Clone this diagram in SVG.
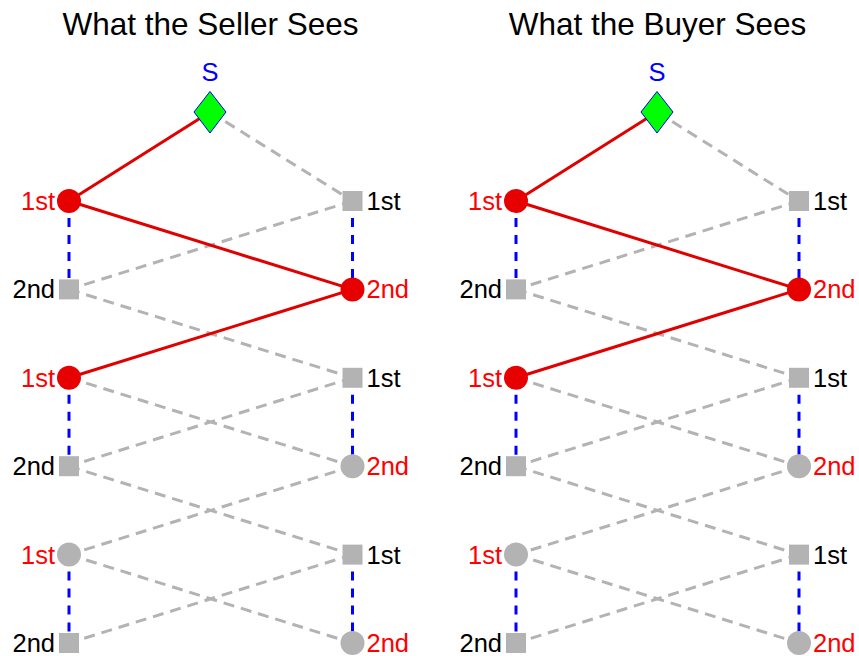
<svg xmlns="http://www.w3.org/2000/svg" width="859" height="656" viewBox="0 0 859 656">
<style>
text{font-family:"Liberation Sans",Arial,sans-serif}
.title{font-size:31.5px;fill:#000;text-anchor:middle}
.lbl{font-size:25.5px}
.le{text-anchor:end}
.ls{text-anchor:start}
.red{fill:#ff0000}
.blk{fill:#000}
.sl{font-size:25.5px;fill:#0000ff;text-anchor:middle}
.solid{stroke:#e00000;stroke-width:3;fill:none}
.gd{stroke:#b3b3b3;stroke-width:3;stroke-dasharray:11,7;fill:none}
.bd{stroke:#0000ff;stroke-width:3;stroke-dasharray:9,8;fill:none}
.rc{fill:#e60000}
.gc{fill:#b3b3b3}
.gs{fill:#b3b3b3}
.dia{fill:#00ff00;stroke:#0000ff;stroke-width:1}
</style>
<rect width="859" height="656" fill="#fff"/>
<text class="title" x="210.5" y="35">What the Seller Sees</text>
<text class="title" x="657.5" y="35">What the Buyer Sees</text>

<g id="connectors">
<!-- panel 1 -->
<line class="bd" x1="69" y1="201" x2="69" y2="289.4"/>
<line class="bd" x1="352.5" y1="201" x2="352.5" y2="289.4"/>
<line class="bd" x1="69" y1="377.8" x2="69" y2="466.2"/>
<line class="bd" x1="352.5" y1="377.8" x2="352.5" y2="466.2"/>
<line class="bd" x1="69" y1="554.6" x2="69" y2="643"/>
<line class="bd" x1="352.5" y1="554.6" x2="352.5" y2="643"/>
<line class="gd" x1="210" y1="112" x2="352.5" y2="201"/>
<line class="gd" x1="352.5" y1="201" x2="69" y2="289.4"/>
<line class="gd" x1="69" y1="289.4" x2="352.5" y2="377.8"/>
<line class="gd" x1="69" y1="377.8" x2="352.5" y2="466.2"/>
<line class="gd" x1="352.5" y1="377.8" x2="69" y2="466.2"/>
<line class="gd" x1="69" y1="466.2" x2="352.5" y2="554.6"/>
<line class="gd" x1="352.5" y1="466.2" x2="69" y2="554.6"/>
<line class="gd" x1="69" y1="554.6" x2="352.5" y2="643"/>
<line class="gd" x1="352.5" y1="554.6" x2="69" y2="643"/>
<line class="solid" x1="210" y1="112" x2="69" y2="201"/>
<line class="solid" x1="69" y1="201" x2="352.5" y2="289.4"/>
<line class="solid" x1="352.5" y1="289.4" x2="69" y2="377.8"/>
<!-- panel 2 -->
<line class="bd" x1="516" y1="201" x2="516" y2="289.4"/>
<line class="bd" x1="799" y1="201" x2="799" y2="289.4"/>
<line class="bd" x1="516" y1="377.8" x2="516" y2="466.2"/>
<line class="bd" x1="799" y1="377.8" x2="799" y2="466.2"/>
<line class="bd" x1="516" y1="554.6" x2="516" y2="643"/>
<line class="bd" x1="799" y1="554.6" x2="799" y2="643"/>
<line class="gd" x1="657" y1="112" x2="799" y2="201"/>
<line class="gd" x1="799" y1="201" x2="516" y2="289.4"/>
<line class="gd" x1="516" y1="289.4" x2="799" y2="377.8"/>
<line class="gd" x1="516" y1="377.8" x2="799" y2="466.2"/>
<line class="gd" x1="799" y1="377.8" x2="516" y2="466.2"/>
<line class="gd" x1="516" y1="466.2" x2="799" y2="554.6"/>
<line class="gd" x1="799" y1="466.2" x2="516" y2="554.6"/>
<line class="gd" x1="516" y1="554.6" x2="799" y2="643"/>
<line class="gd" x1="799" y1="554.6" x2="516" y2="643"/>
<line class="solid" x1="657" y1="112" x2="516" y2="201"/>
<line class="solid" x1="516" y1="201" x2="799" y2="289.4"/>
<line class="solid" x1="799" y1="289.4" x2="516" y2="377.8"/>
</g>

<!-- panel 1 nodes -->
<g id="s1-S"><polygon class="dia" points="210,91.5 226,112 210,133 194,112"/><text class="sl" x="210" y="81">S</text></g>
<g id="s1-L0"><circle class="rc" cx="69" cy="201" r="12"/><text class="lbl le red" x="55" y="210">1st</text></g>
<g id="s1-R0"><rect class="gs" x="342.5" y="191" width="20" height="20"/><text class="lbl ls blk" x="366.5" y="210">1st</text></g>
<g id="s1-L1"><rect class="gs" x="59" y="279.4" width="20" height="20"/><text class="lbl le blk" x="55" y="298.4">2nd</text></g>
<g id="s1-R1"><circle class="rc" cx="352.5" cy="289.4" r="12"/><text class="lbl ls red" x="366.5" y="298.4">2nd</text></g>
<g id="s1-L2"><circle class="rc" cx="69" cy="377.8" r="12"/><text class="lbl le red" x="55" y="386.8">1st</text></g>
<g id="s1-R2"><rect class="gs" x="342.5" y="367.8" width="20" height="20"/><text class="lbl ls blk" x="366.5" y="386.8">1st</text></g>
<g id="s1-L3"><rect class="gs" x="59" y="456.2" width="20" height="20"/><text class="lbl le blk" x="55" y="475.2">2nd</text></g>
<g id="s1-R3"><circle class="gc" cx="352.5" cy="466.2" r="12"/><text class="lbl ls red" x="366.5" y="475.2">2nd</text></g>
<g id="s1-L4"><circle class="gc" cx="69" cy="554.6" r="12"/><text class="lbl le red" x="55" y="563.6">1st</text></g>
<g id="s1-R4"><rect class="gs" x="342.5" y="544.6" width="20" height="20"/><text class="lbl ls blk" x="366.5" y="563.6">1st</text></g>
<g id="s1-L5"><rect class="gs" x="59" y="633" width="20" height="20"/><text class="lbl le blk" x="55" y="652">2nd</text></g>
<g id="s1-R5"><circle class="gc" cx="352.5" cy="643" r="12"/><text class="lbl ls red" x="366.5" y="652">2nd</text></g>

<!-- panel 2 nodes -->
<g id="s2-S"><polygon class="dia" points="657,91.5 673,112 657,133 641,112"/><text class="sl" x="657" y="81">S</text></g>
<g id="s2-L0"><circle class="rc" cx="516" cy="201" r="12"/><text class="lbl le red" x="502" y="210">1st</text></g>
<g id="s2-R0"><rect class="gs" x="789" y="191" width="20" height="20"/><text class="lbl ls blk" x="813" y="210">1st</text></g>
<g id="s2-L1"><rect class="gs" x="506" y="279.4" width="20" height="20"/><text class="lbl le blk" x="502" y="298.4">2nd</text></g>
<g id="s2-R1"><circle class="rc" cx="799" cy="289.4" r="12"/><text class="lbl ls red" x="813" y="298.4">2nd</text></g>
<g id="s2-L2"><circle class="rc" cx="516" cy="377.8" r="12"/><text class="lbl le red" x="502" y="386.8">1st</text></g>
<g id="s2-R2"><rect class="gs" x="789" y="367.8" width="20" height="20"/><text class="lbl ls blk" x="813" y="386.8">1st</text></g>
<g id="s2-L3"><rect class="gs" x="506" y="456.2" width="20" height="20"/><text class="lbl le blk" x="502" y="475.2">2nd</text></g>
<g id="s2-R3"><circle class="gc" cx="799" cy="466.2" r="12"/><text class="lbl ls red" x="813" y="475.2">2nd</text></g>
<g id="s2-L4"><circle class="gc" cx="516" cy="554.6" r="12"/><text class="lbl le red" x="502" y="563.6">1st</text></g>
<g id="s2-R4"><rect class="gs" x="789" y="544.6" width="20" height="20"/><text class="lbl ls blk" x="813" y="563.6">1st</text></g>
<g id="s2-L5"><rect class="gs" x="506" y="633" width="20" height="20"/><text class="lbl le blk" x="502" y="652">2nd</text></g>
<g id="s2-R5"><circle class="gc" cx="799" cy="643" r="12"/><text class="lbl ls red" x="813" y="652">2nd</text></g>
</svg>
